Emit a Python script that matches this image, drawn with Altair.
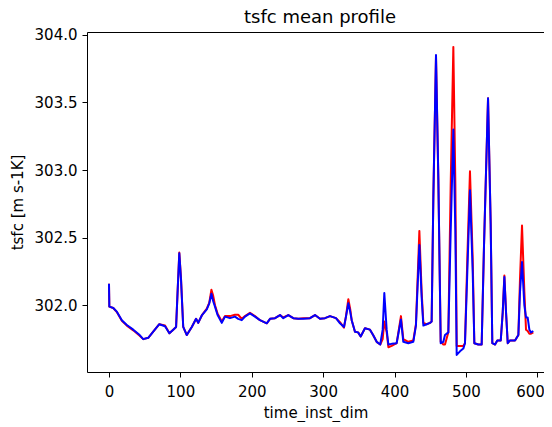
import altair as alt
import pandas as pd

# time index (x) and the two mean profiles
x_vals = [0, 0.5, 6, 11, 18, 25, 34, 43, 48, 55,
          62, 70.5, 78.5, 84.6, 90, 94, 96.2, 98.5, 100.9, 104,
          109, 116, 122, 125, 130, 137, 140.5, 143.5, 146, 148.5,
          152, 158, 162.5, 169.5, 176.5, 181, 186, 190.5, 197.5, 204.5,
          211.5, 221, 225.6, 232.6, 239.6, 244.2, 251.2, 258.2, 265.2, 272.2,
          281.6, 288.6, 295.6, 302.6, 309.6, 318, 323.6, 329.2, 332, 335.3,
          338, 340, 344.6, 349, 352.6, 358.6, 365.6, 370, 375, 380,
          383.4, 385.7, 389, 391.4, 396, 403, 405.4, 409, 412.3, 419.3,
          426.3, 430, 434.8, 438, 440.4, 445, 449.7, 452, 454.4, 458.1,
          461.4, 464.7, 468.4, 470.7, 475.4, 478.7, 482.4, 485.2, 487.1, 491.7,
          496.4, 498.7, 502, 505.7, 509.5, 511.8, 517.4, 522.1, 525.4, 531,
          534.7, 537, 540.8, 544, 548.8, 551.6, 553.9, 556.2, 558.6, 561.8,
          568.8, 573.5, 575.8, 578.6, 581.9, 584.2, 586.5, 588.9, 591.2, 594.4]

blue_vals = [302.16, 301.99, 301.98, 301.953, 301.89, 301.854, 301.82, 301.78, 301.75, 301.76,
             301.805, 301.86, 301.845, 301.793, 301.82, 301.84, 302.11, 302.384, 302.19, 301.84,
             301.78, 301.84, 301.90, 301.87, 301.925, 301.97, 302.015, 302.085, 302.03, 301.99,
             301.93, 301.87, 301.916, 301.905, 301.916, 301.90, 301.89, 301.916, 301.94, 301.916,
             301.89, 301.867, 301.90, 301.905, 301.928, 301.905, 301.928, 301.905, 301.90, 301.90,
             301.905, 301.928, 301.90, 301.905, 301.92, 301.905, 301.867, 301.84, 301.916, 302.015,
             301.95, 301.89, 301.805, 301.80, 301.77, 301.83, 301.82, 301.78, 301.73, 301.71,
             301.82, 302.09, 301.82, 301.71, 301.715, 301.72, 301.79, 301.895, 301.73, 301.72,
             301.73, 301.85, 302.445, 302.06, 301.85, 301.86, 301.87, 301.88, 302.80, 303.85,
             302.93, 301.72, 301.73, 301.78, 301.80, 302.55, 303.3, 302.55, 301.633, 301.66,
             301.68, 301.72, 302.25, 302.85, 302.25, 301.72, 301.71, 301.71, 302.45, 303.53,
             302.6, 301.72, 301.71, 301.74, 301.74, 301.95, 302.21, 301.95, 301.72, 301.74,
             301.74, 301.78, 302.1, 302.32, 302.0, 301.91, 301.91, 301.82, 301.80, 301.81]

red_vals = [302.16, 301.99, 301.98, 301.95, 301.885, 301.85, 301.815, 301.775, 301.75, 301.76,
            301.805, 301.86, 301.85, 301.793, 301.82, 301.84, 302.11, 302.39, 302.2, 301.84,
            301.78, 301.84, 301.90, 301.87, 301.925, 301.975, 302.02, 302.115, 302.07, 302.00,
            301.94, 301.88, 301.92, 301.92, 301.93, 301.93, 301.90, 301.92, 301.945, 301.92,
            301.89, 301.867, 301.90, 301.905, 301.928, 301.91, 301.928, 301.905, 301.90, 301.905,
            301.905, 301.928, 301.90, 301.905, 301.92, 301.905, 301.875, 301.835, 301.92, 302.045,
            301.97, 301.89, 301.805, 301.80, 301.77, 301.83, 301.82, 301.78, 301.73, 301.71,
            301.75, 301.88, 301.80, 301.69, 301.70, 301.72, 301.80, 301.92, 301.75, 301.73,
            301.74, 301.86, 302.55, 302.10, 301.87, 301.86, 301.87, 301.88, 302.80, 303.84,
            302.93, 301.73, 301.71, 301.71, 301.80, 302.9, 303.91, 302.9, 301.70, 301.70,
            301.70, 301.72, 302.35, 302.99, 302.35, 301.72, 301.71, 301.71, 302.45, 303.53,
            302.6, 301.72, 301.71, 301.74, 301.74, 301.95, 302.22, 301.95, 301.72, 301.74,
            301.74, 301.78, 302.2, 302.59, 302.1, 301.82, 301.81, 301.79, 301.79, 301.80]

x_ticks = [0, 100, 200, 300, 400, 500, 600]
y_ticks = [302.0, 302.5, 303.0, 303.5, 304.0]

df = pd.DataFrame({"t": x_vals, "red": red_vals, "blue": blue_vals})

FONT = "DejaVu Sans"
x_scale = alt.Scale(domain=[-30.8, 609.4], nice=False, zero=False)
y_scale = alt.Scale(domain=[301.507, 304.02], nice=False, zero=False)

axis_common = dict(
    grid=False, domainColor="black", domainWidth=1, tickColor="black", tickWidth=1,
    tickSize=5, labelFont=FONT, labelFontSize=15, labelColor="black",
    titleFont=FONT, titleFontSize=15, titleFontWeight="normal", titleColor="black",
)

x_axis = alt.Axis(values=x_ticks, title="time_inst_dim", labelPadding=7, titlePadding=6,
                  labelFlush=10, labelFlushOffset=7, **axis_common)
y_axis = alt.Axis(values=y_ticks, format=".1f", title="tsfc [m s-1K]", labelPadding=5,
                  titlePadding=9, **axis_common)
top_axis = alt.Axis(orient="top", labels=False, ticks=False, title=None, grid=False,
                    domainColor="black", domainWidth=1)

red_line = alt.Chart(df).mark_line(color="#ff0000", strokeWidth=2, strokeJoin="round").encode(
    x=alt.X("t:Q", scale=x_scale, axis=x_axis),
    y=alt.Y("red:Q", scale=y_scale, axis=y_axis),
)
blue_line = alt.Chart(df).mark_line(color="#0000ff", strokeWidth=2, strokeJoin="round").encode(
    x=alt.X("t:Q", scale=x_scale, axis=top_axis),
    y=alt.Y("blue:Q", scale=y_scale, axis=y_axis),
)

chart = (
    alt.layer(red_line, blue_line)
    .resolve_axis(x="independent")
    .properties(
        width=457, height=340,
        title=alt.TitleParams("tsfc mean profile", font=FONT, fontSize=18,
                              fontWeight="normal", color="black", offset=1, dx=4.5),
        autosize=alt.AutoSizeParams(type="none"),
        padding={"left": 79, "top": 24, "right": 0, "bottom": 50},
    )
    .configure_view(stroke=None)
    .configure(background="white")
)

chart.save("out.html", embed_options={"renderer": "svg", "actions": False})
